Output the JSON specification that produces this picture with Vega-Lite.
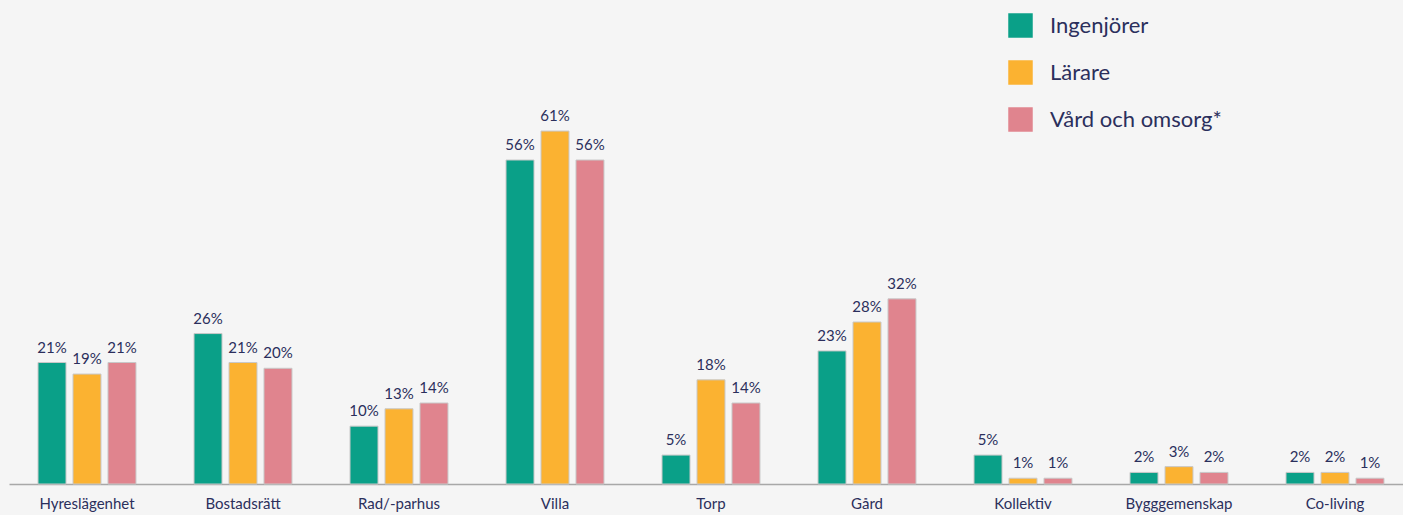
{
  "$schema": "https://vega.github.io/schema/vega-lite/v6.json",
  "autosize": {"type": "none"},
  "width": 1404,
  "height": 405,
  "padding": {"left": 9, "top": 79, "right": 0, "bottom": 31},
  "background": "#f5f5f5",
  "config": {
    "view": {"stroke": null},
    "font": "Lato",
    "text": {"font": "Lato"}
  },
  "data": {
    "values": [
      {"boendeform": "Hyreslägenhet", "grupp": "Ingenjörer", "andel": 0.21},
      {"boendeform": "Hyreslägenhet", "grupp": "Lärare", "andel": 0.19},
      {"boendeform": "Hyreslägenhet", "grupp": "Vård och omsorg*", "andel": 0.21},
      {"boendeform": "Bostadsrätt", "grupp": "Ingenjörer", "andel": 0.26},
      {"boendeform": "Bostadsrätt", "grupp": "Lärare", "andel": 0.21},
      {"boendeform": "Bostadsrätt", "grupp": "Vård och omsorg*", "andel": 0.20},
      {"boendeform": "Rad/-parhus", "grupp": "Ingenjörer", "andel": 0.10},
      {"boendeform": "Rad/-parhus", "grupp": "Lärare", "andel": 0.13},
      {"boendeform": "Rad/-parhus", "grupp": "Vård och omsorg*", "andel": 0.14},
      {"boendeform": "Villa", "grupp": "Ingenjörer", "andel": 0.56},
      {"boendeform": "Villa", "grupp": "Lärare", "andel": 0.61},
      {"boendeform": "Villa", "grupp": "Vård och omsorg*", "andel": 0.56},
      {"boendeform": "Torp", "grupp": "Ingenjörer", "andel": 0.05},
      {"boendeform": "Torp", "grupp": "Lärare", "andel": 0.18},
      {"boendeform": "Torp", "grupp": "Vård och omsorg*", "andel": 0.14},
      {"boendeform": "Gård", "grupp": "Ingenjörer", "andel": 0.23},
      {"boendeform": "Gård", "grupp": "Lärare", "andel": 0.28},
      {"boendeform": "Gård", "grupp": "Vård och omsorg*", "andel": 0.32},
      {"boendeform": "Kollektiv", "grupp": "Ingenjörer", "andel": 0.05},
      {"boendeform": "Kollektiv", "grupp": "Lärare", "andel": 0.01},
      {"boendeform": "Kollektiv", "grupp": "Vård och omsorg*", "andel": 0.01},
      {"boendeform": "Bygggemenskap", "grupp": "Ingenjörer", "andel": 0.02},
      {"boendeform": "Bygggemenskap", "grupp": "Lärare", "andel": 0.03},
      {"boendeform": "Bygggemenskap", "grupp": "Vård och omsorg*", "andel": 0.02},
      {"boendeform": "Co-living", "grupp": "Ingenjörer", "andel": 0.02},
      {"boendeform": "Co-living", "grupp": "Lärare", "andel": 0.02},
      {"boendeform": "Co-living", "grupp": "Vård och omsorg*", "andel": 0.01}
    ]
  },
  "encoding": {
    "x": {
      "field": "boendeform",
      "type": "nominal",
      "sort": null,
      "scale": {"paddingInner": 0.372, "paddingOuter": 0.186},
      "axis": {
        "title": null,
        "labelAngle": 0,
        "ticks": false,
        "domainColor": "#a8a8a8",
        "domainWidth": 1.5,
        "labelColor": "#2b2f5c",
        "labelFontSize": 15,
        "labelFont": "Lato",
        "labelPadding": 12
      }
    },
    "xOffset": {
      "field": "grupp",
      "type": "nominal",
      "sort": ["Ingenjörer", "Lärare", "Vård och omsorg*"],
      "scale": {"paddingInner": 0.2, "paddingOuter": 0}
    },
    "y": {
      "field": "andel",
      "type": "quantitative",
      "scale": {"domain": [0, 0.7]},
      "axis": null
    }
  },
  "layer": [
    {
      "mark": {"type": "bar", "stroke": "#c8c8c8", "strokeWidth": 1},
      "encoding": {
        "color": {
          "field": "grupp",
          "type": "nominal",
          "scale": {
            "domain": ["Ingenjörer", "Lärare", "Vård och omsorg*"],
            "range": ["#0aa088", "#fbb231", "#e0848e"]
          },
          "legend": {
            "title": null,
            "orient": "none",
            "legendX": 999,
            "legendY": -66,
            "padding": 0,
            "symbolType": "square",
            "symbolSize": 600,
            "symbolStrokeWidth": 0,
            "labelFontSize": 22,
            "labelFont": "Lato",
            "labelColor": "#2b2f5c",
            "labelOffset": 17,
            "labelLimit": 400,
            "rowPadding": 22
          }
        }
      }
    },
    {
      "mark": {"type": "text", "baseline": "alphabetic", "dy": -10, "fontSize": 15, "color": "#2b2f5c", "font": "Lato"},
      "encoding": {
        "text": {"field": "andel", "type": "quantitative", "format": ".0%"},
        "detail": {"field": "grupp"}
      }
    }
  ]
}
